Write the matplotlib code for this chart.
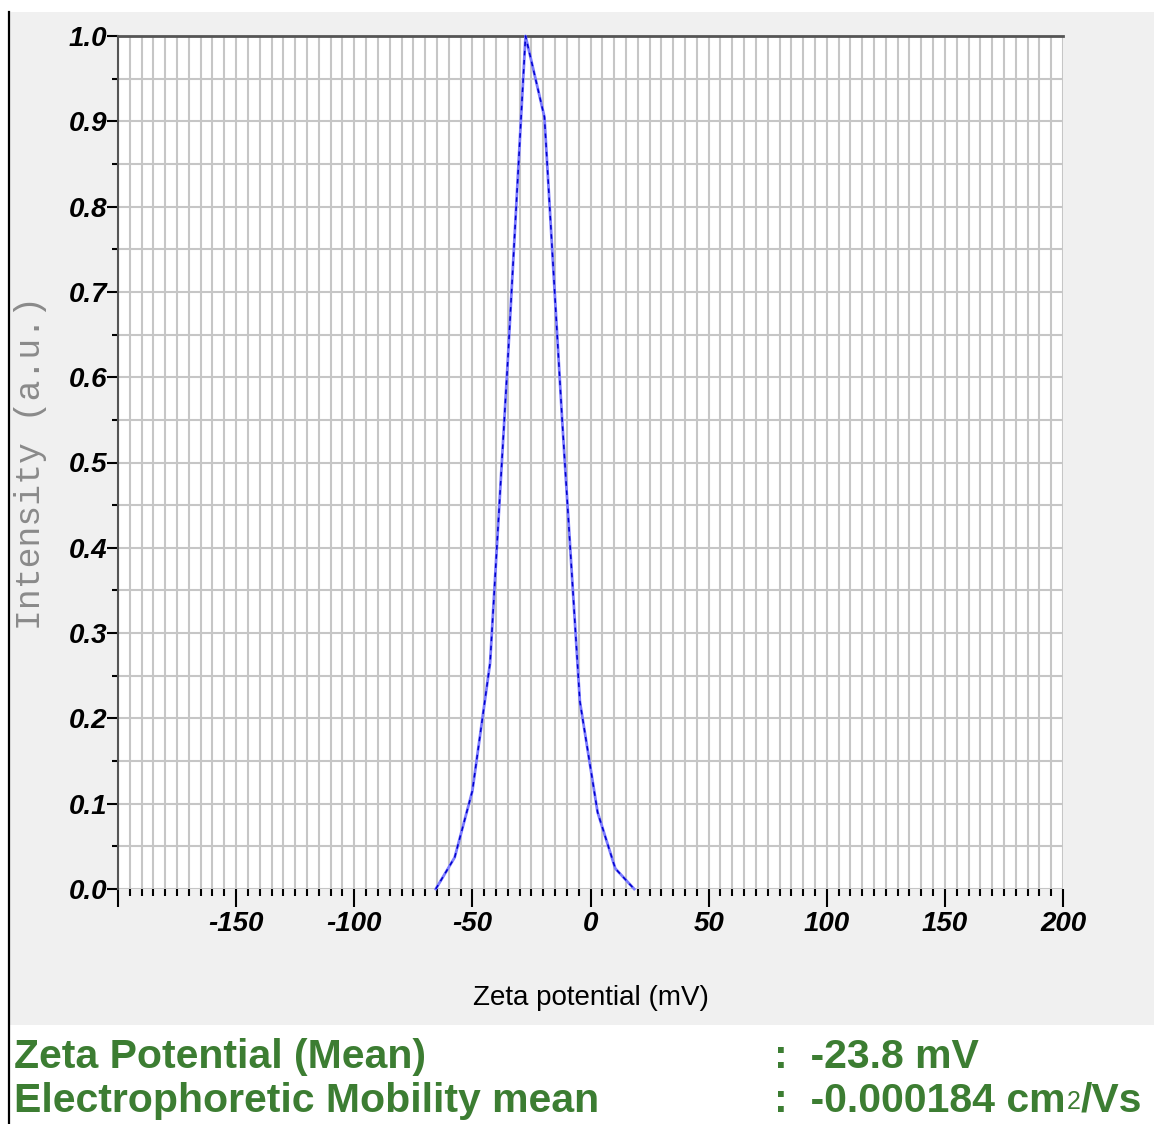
#!/usr/bin/env python3
"""
Zeta potential distribution chart (intensity vs zeta potential).
Writes out.png in the current folder.
"""

import numpy as np
import matplotlib
matplotlib.use('Agg')
import matplotlib.pyplot as plt
from matplotlib.patches import Rectangle
from matplotlib.lines import Line2D

OUTPUT_PATH = 'out.png'

# data
zeta_mv = [-65.5, -57.5, -50, -42.5, -35, -27.5, -19.5, -12, -4.5, 3, 10.5, 18.5]
intensity = [0, 0.037, 0.115, 0.265, 0.62, 1.0, 0.905, 0.55, 0.22, 0.09, 0.024, 0]

x_major = [-200, -150, -100, -50, 0, 50, 100, 150, 200]
x_labels = ['', '-150', '-100', '-50', '0', '50', '100', '150', '200']
y_major = np.round(np.arange(0, 1.01, 0.1), 1)

summary_names = ['Zeta Potential (Mean)', 'Electrophoretic Mobility mean']
summary_values = [':  -23.8 mV', ':  -0.000184 cm']

SANS = ['Liberation Sans', 'DejaVu Sans']
GREEN = '#3c7d32'
BIG = 29.5

W, H = 1154, 1124


def fx(px):
    return px / W


def fy(py):
    return 1 - py / H


def main():
    fig = plt.figure(figsize=(W / 100, H / 100), dpi=100)
    fig.patch.set_facecolor('white')

    # grey panel behind the plot, plus the black left border line
    fig.patches.append(Rectangle((fx(10), fy(1025)), fx(W - 10), (1025 - 12) / H,
                                 transform=fig.transFigure, facecolor='#f0f0f0',
                                 edgecolor='none', zorder=-5))
    fig.lines.append(Line2D([fx(9), fx(9)], [0, fy(12)], transform=fig.transFigure,
                            color='black', lw=1.6))

    ax = fig.add_axes([fx(118), fy(889), fx(1063 - 118), (889 - 36) / H])
    ax.set_facecolor('white')

    # light halo + darker dashes, like the original trace
    ax.plot(zeta_mv, intensity, color='#7b7bff', lw=2.0, clip_on=False, zorder=4)
    ax.plot(zeta_mv, intensity, color='#0000cc', lw=1.1, dashes=(3, 3),
            clip_on=False, zorder=5)

    ax.set_xlim(-200, 200)
    ax.set_ylim(0, 1.0)

    ax.set_xticks(x_major)
    ax.set_xticklabels(x_labels)
    ax.set_xticks(np.arange(-200, 201, 5), minor=True)
    ax.set_yticks(y_major)
    ax.set_yticklabels([f'{v:.1f}' for v in y_major])
    ax.set_yticks(np.arange(0, 1.01, 0.05), minor=True)

    ax.grid(which='both', color='#c6c6c6', lw=1.5, zorder=0)
    ax.set_axisbelow(True)

    for lbl in ax.get_xticklabels() + ax.get_yticklabels():
        lbl.set_family(SANS)
        lbl.set_fontweight('bold')
        lbl.set_fontstyle('italic')
        lbl.set_fontsize(20)

    ax.tick_params(axis='y', which='major', direction='out', length=8, width=1.5, pad=0)
    ax.tick_params(axis='y', which='minor', direction='out', length=4, width=1.5)
    ax.tick_params(axis='x', which='major', direction='out', length=13, width=1.5, pad=3)
    ax.tick_params(axis='x', which='minor', direction='out', length=5, width=1.5)

    ax.spines['right'].set_visible(False)
    ax.spines['bottom'].set_visible(False)
    ax.spines['top'].set_color('#555555')
    ax.spines['top'].set_linewidth(2)
    ax.spines['left'].set_color('#555555')
    ax.spines['left'].set_linewidth(1.5)

    # axis titles
    fig.text(fx(31), fy(463), 'Intensity (a.u.)', rotation=90, ha='center', va='center',
             family=['Liberation Mono', 'DejaVu Sans Mono'], fontsize=25, color='#8a8a8a')
    fig.text(fx(591), fy(998), 'Zeta potential (mV)', ha='center', va='center',
             family=SANS, fontsize=20, color='black')

    # summary lines under the chart
    baselines = [1068, 1112]
    for name, value, base in zip(summary_names, summary_values, baselines):
        fig.text(fx(14), fy(base), name, ha='left', va='baseline', family=SANS,
                 fontsize=BIG, fontweight='bold', color=GREEN)
        t = fig.text(fx(774), fy(base), value, ha='left', va='baseline', family=SANS,
                     fontsize=BIG, fontweight='bold', color=GREEN)
    sup = ax.annotate('2', xy=(1, 0), xycoords=t, xytext=(1, 4), textcoords='offset points',
                      ha='left', va='bottom', family=SANS, fontsize=18, color=GREEN,
                      annotation_clip=False)
    ax.annotate('/Vs', xy=(1, 0), xycoords=sup, xytext=(0, -4), textcoords='offset points',
                ha='left', va='bottom', family=SANS, fontsize=BIG, fontweight='bold',
                color=GREEN, annotation_clip=False)

    fig.savefig(OUTPUT_PATH, dpi=100)
    plt.close(fig)
    print('OK')


if __name__ == '__main__':
    main()
